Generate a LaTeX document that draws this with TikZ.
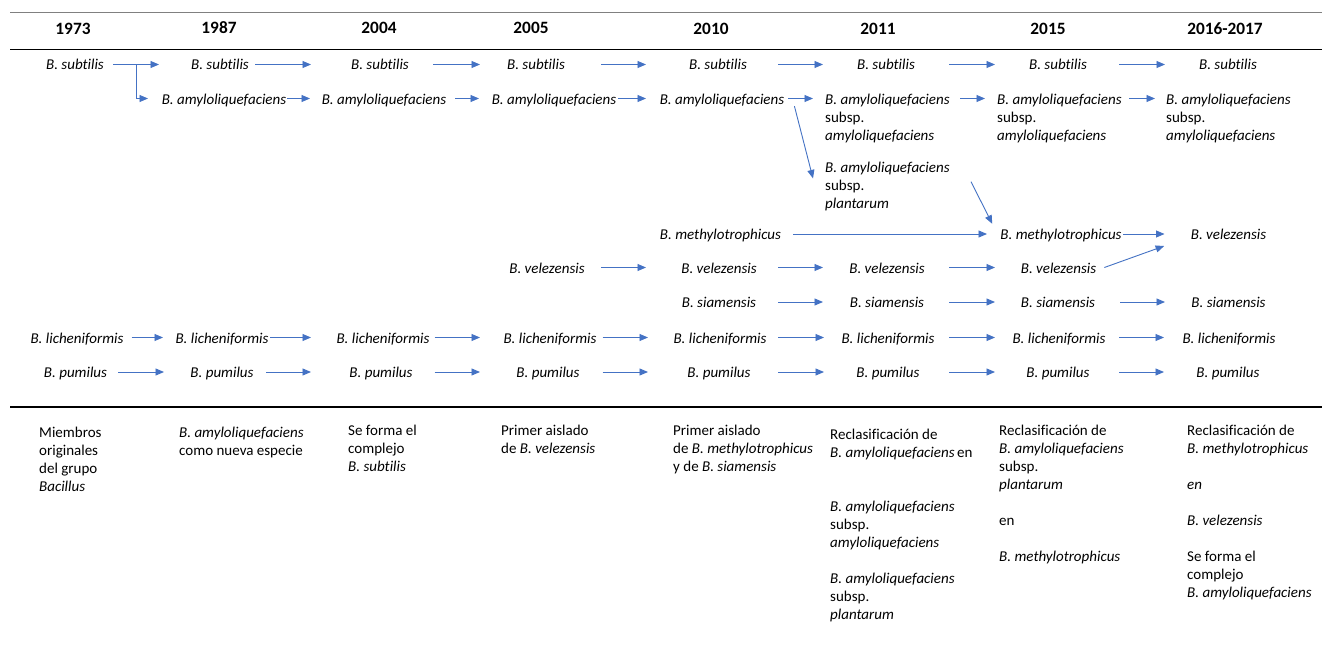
\documentclass[tikz,border=0pt]{standalone}
\usepackage{fontspec}
\setmainfont{Carlito}[Ligatures=NoCommon]
\usetikzlibrary{arrows.meta,calc}
\definecolor{arrblue}{HTML}{4472C4}
\definecolor{rulegray}{HTML}{808080}
\begin{document}
\begin{tikzpicture}[x=1pt,y=-1pt,
  arr/.style={draw=arrblue, line width=0.9pt, -{Triangle[length=8.5pt,width=7pt]}},
  sp/.style={font=\fontsize{15}{18}\selectfont\itshape, inner sep=0pt, text height=14pt, text depth=3pt, anchor=base},
  yr/.style={font=\fontsize{17.3}{20}\selectfont\bfseries, inner sep=0pt, anchor=base},
  blk/.style={font=\fontsize{15}{18}\selectfont, inner sep=0pt, anchor=north west, align=left},
  rulethin/.style={draw=rulegray, line width=1pt},
  rulethick/.style={draw=black, line width=1.8pt}]
\useasboundingbox (0,0) rectangle (1322,669);
\fill[white] (0,0) rectangle (1322,669);

% rules
\draw[rulethin] (10,13) -- (1322,13);
\draw[rulethick] (10,49.5) -- (1322,49.5);
\draw[rulethick] (10,407) -- (1322,407);

% headers
\node[yr] (y73) at (73,34.5) {1973};
\node[yr] (y87) at (219,34) {1987};
\node[yr] (y04) at (379,34) {2004};
\node[yr] (y05) at (531,34) {2005};
\node[yr] (y10) at (711,34.5) {2010};
\node[yr] (y11) at (878,34.5) {2011};
\node[yr] (y15) at (1048,34.5) {2015};
\node[yr] (y16) at (1225,34.5) {2016-2017};

% row 1: B. subtilis
\node[sp] (sub73) at (75,70) {B. subtilis};
\node[sp] (sub87) at (220,70) {B. subtilis};
\node[sp] (sub04) at (380,70) {B. subtilis};
\node[sp] (sub05) at (536,70) {B. subtilis};
\node[sp] (sub10) at (718,70) {B. subtilis};
\node[sp] (sub11) at (886,70) {B. subtilis};
\node[sp] (sub15) at (1058,70) {B. subtilis};
\node[sp] (sub16) at (1228,70) {B. subtilis};

% row 2: B. amyloliquefaciens
\node[sp] (amy87) at (224,104) {B. amyloliquefaciens};
\node[sp] (amy04) at (384,104) {B. amyloliquefaciens};
\node[sp] (amy05) at (554,104) {B. amyloliquefaciens};
\node[sp] (amy10) at (722,104) {B. amyloliquefaciens};
\node[blk] (amy11) at (825,91.4) {\strut\textit{B. amyloliquefaciens}\\subsp.\\\textit{amyloliquefaciens}};
\node[blk] (amy15) at (997,91.4) {\strut\textit{B. amyloliquefaciens}\\subsp.\\\textit{amyloliquefaciens}};
\node[blk] (amy16) at (1166,91.4) {\strut\textit{B. amyloliquefaciens}\\subsp.\\\textit{amyloliquefaciens}};
\node[blk] (pl11) at (825,159.4) {\strut\textit{B. amyloliquefaciens}\\subsp.\\\textit{plantarum}};

% methylotrophicus row
\node[sp] (meth10) at (720.5,239.5) {B. methylotrophicus};
\node[sp] (meth15) at (1061,239.5) {B. methylotrophicus};
\node[sp] (vel16) at (1228.5,239.5) {B. velezensis};

% velezensis row
\node[sp] (vel05) at (547,273) {B. velezensis};
\node[sp] (vel10) at (719,273) {B. velezensis};
\node[sp] (vel11) at (887,273) {B. velezensis};
\node[sp] (vel15) at (1058.5,273) {B. velezensis};

% siamensis row
\node[sp] (sia10) at (719,307.5) {B. siamensis};
\node[sp] (sia11) at (887,307.5) {B. siamensis};
\node[sp] (sia15) at (1058,307.5) {B. siamensis};
\node[sp] (sia16) at (1228.5,307.5) {B. siamensis};

% licheniformis row
\node[sp] (lic73) at (77,343) {B. licheniformis};
\node[sp] (lic87) at (222,343) {B. licheniformis};
\node[sp] (lic04) at (383,343) {B. licheniformis};
\node[sp] (lic05) at (550,343) {B. licheniformis};
\node[sp] (lic10) at (720,343) {B. licheniformis};
\node[sp] (lic11) at (888,343) {B. licheniformis};
\node[sp] (lic15) at (1059,343) {B. licheniformis};
\node[sp] (lic16) at (1229,343) {B. licheniformis};

% pumilus row
\node[sp] (pum73) at (75.5,377.5) {B. pumilus};
\node[sp] (pum87) at (222,377.5) {B. pumilus};
\node[sp] (pum04) at (381,377.5) {B. pumilus};
\node[sp] (pum05) at (548,377.5) {B. pumilus};
\node[sp] (pum10) at (719,377.5) {B. pumilus};
\node[sp] (pum11) at (888,377.5) {B. pumilus};
\node[sp] (pum15) at (1058,377.5) {B. pumilus};
\node[sp] (pum16) at (1228,377.5) {B. pumilus};

% descriptions
\node[blk] (d73) at (39,424.4) {\strut Miembros\\originales\\del grupo\\\textit{Bacillus}};
\node[blk] (d87) at (179,424.4) {\strut\textit{B. amyloliquefaciens}\\como nueva especie};
\node[blk] (d04) at (348,422.4) {\strut Se forma el\\complejo\\\textit{B. subtilis}};
\node[blk] (d05) at (501,422.4) {\strut Primer aislado\\de \textit{B. velezensis}};
\node[blk] (d10) at (673,422.4) {\strut Primer aislado\\de \textit{B. methylotrophicus}\\y de \textit{B. siamensis}};
\node[blk] (d11) at (830,426.4) {\strut Reclasificación de\\\textit{B. amyloliquefaciens}\,en\\[36pt]\textit{B. amyloliquefaciens}\\subsp.\\\textit{amyloliquefaciens}\\[18pt]\textit{B. amyloliquefaciens}\\subsp.\\\textit{plantarum}};
\node[blk] (d15) at (999,422.4) {\strut Reclasificación de\\\textit{B. amyloliquefaciens}\\subsp.\\\textit{plantarum}\\[18pt]en\\[18pt]\textit{B. methylotrophicus}};
\node[blk] (d16) at (1187,422.4) {\strut Reclasificación de\\\textit{B. methylotrophicus}\\[18pt]\textit{en}\\[18pt]\textit{B. velezensis}\\[18pt]Se forma el\\complejo\\\textit{B. amyloliquefaciens}};

% arrows row 1
\draw[arr] (113,0 |- sub73) -- (159,0 |- sub87);
\draw[arr] (136,0 |- sub73) |- (148,0 |- amy87);
\draw[arr] (255,0 |- sub87) -- (311,0 |- sub04);
\draw[arr] (433,0 |- sub04) -- (480,0 |- sub05);
\draw[arr] (601,0 |- sub05) -- (646,0 |- sub10);
\draw[arr] (778,0 |- sub10) -- (823,0 |- sub11);
\draw[arr] (949,0 |- sub11) -- (995,0 |- sub15);
\draw[arr] (1119,0 |- sub15) -- (1165,0 |- sub16);

% arrows row 2
\draw[arr] (287,0 |- amy87) -- (310,0 |- amy04);
\draw[arr] (455,0 |- amy04) -- (479,0 |- amy05);
\draw[arr] (618,0 |- amy05) -- (646,0 |- amy10);
\draw[arr] (788,0 |- amy10) -- ($(amy11.north west)+(-12,7.1)$);
\draw[arr] ($(amy11.north west)+(135,7.1)$) -- ($(amy15.north west)+(-12,7.1)$);
\draw[arr] ($(amy15.north west)+(132,7.1)$) -- ($(amy16.north west)+(-11,7.1)$);

% diagonal / long arrows
\draw[arr] ($(amy10.south east)+(10,-1)$) -- ($(pl11.north west)+(-12,19)$);
\draw[arr] ($(pl11.north west)+(146,22.3)$) -- ($(meth15.north west)+(-8,-1.5)$);
\draw[arr] (793,0 |- meth10) -- (987,0 |- meth15);
\draw[arr] (1123,0 |- meth15) -- (1164.5,0 |- vel16);
\draw[arr] ($(vel15.east)+(8,0)$) -- ($(vel16.west)+(-26.5,12)$);

% velezensis arrows
\draw[arr] (601,0 |- vel05) -- (646,0 |- vel10);
\draw[arr] (778,0 |- vel10) -- (823,0 |- vel11);
\draw[arr] (949,0 |- vel11) -- (995,0 |- vel15);

% siamensis arrows
\draw[arr] (778,0 |- sia10) -- (823,0 |- sia11);
\draw[arr] (949,0 |- sia11) -- (995,0 |- sia15);
\draw[arr] (1120,0 |- sia15) -- (1165,0 |- sia16);

% licheniformis arrows
\draw[arr] (131.6,0 |- lic73) -- (163,0 |- lic87);
\draw[arr] (270,0 |- lic87) -- (311,0 |- lic04);
\draw[arr] (434.6,0 |- lic04) -- (480,0 |- lic05);
\draw[arr] (602.5,0 |- lic05) -- (648,0 |- lic10);
\draw[arr] (778,0 |- lic10) -- (824,0 |- lic11);
\draw[arr] (949,0 |- lic11) -- (995,0 |- lic15);
\draw[arr] (1119,0 |- lic15) -- (1164,0 |- lic16);

% pumilus arrows
\draw[arr] (118,0 |- pum73) -- (164,0 |- pum87);
\draw[arr] (266,0 |- pum87) -- (311,0 |- pum04);
\draw[arr] (434.6,0 |- pum04) -- (480,0 |- pum05);
\draw[arr] (602.5,0 |- pum05) -- (648,0 |- pum10);
\draw[arr] (778,0 |- pum10) -- (824,0 |- pum11);
\draw[arr] (949,0 |- pum11) -- (995,0 |- pum15);
\draw[arr] (1119,0 |- pum15) -- (1164,0 |- pum16);
\end{tikzpicture}
\end{document}
